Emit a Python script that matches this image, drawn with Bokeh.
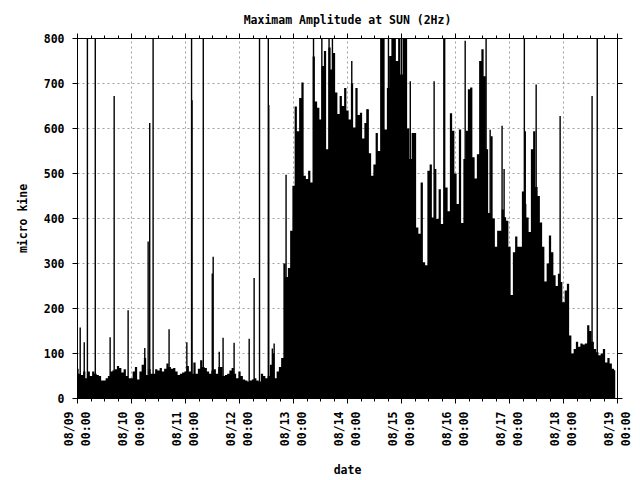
from math import pi

from bokeh.embed import file_html
from bokeh.models import CustomJSTickFormatter, FixedTicker, LinearAxis, Range1d
from bokeh.plotting import figure
from bokeh.resources import INLINE

# one label per day, hours counted from 08/09 00:00
days = ["08/09", "08/10", "08/11", "08/12", "08/13", "08/14",
        "08/15", "08/16", "08/17", "08/18", "08/19"]

# hourly maximum amplitude (micro kine), hour 0 .. 239
amp = [
    66, 55, 52, 60, 45, 60, 50, 60, 55, 52, 50, 40, 40, 45, 50, 60, 62, 65, 72, 68,
    58, 65, 50, 45, 45, 60, 70, 42, 60, 75, 90, 52, 65, 55, 55, 65, 62, 68, 60, 66,
    78, 70, 66, 68, 60, 52, 55, 58, 60, 72, 60, 55, 80, 55, 66, 85, 70, 68, 60, 55,
    62, 65, 55, 70, 70, 50, 52, 55, 62, 68, 55, 45, 60, 50, 42, 40, 38, 40, 42, 45,
    40, 38, 55, 50, 45, 50, 75, 100, 45, 60, 70, 90, 300, 270, 290, 373, 473, 649, 594, 668,
    702, 495, 488, 506, 480, 760, 660, 646, 620, 739, 772, 554, 780, 731, 768, 680, 632, 672, 650, 690,
    640, 620, 700, 602, 690, 630, 635, 578, 612, 643, 545, 495, 520, 590, 550, 800, 800, 598, 690, 761,
    800, 800, 750, 800, 720, 800, 800, 600, 532, 590, 590, 380, 366, 480, 303, 296, 506, 520, 402, 510,
    399, 465, 388, 800, 469, 416, 634, 595, 500, 432, 598, 390, 532, 595, 687, 691, 536, 489, 543, 750,
    776, 716, 554, 412, 583, 400, 337, 373, 373, 420, 403, 395, 337, 230, 325, 360, 337, 337, 460, 432,
    402, 370, 554, 594, 470, 450, 391, 337, 260, 300, 362, 325, 274, 250, 277, 259, 214, 240, 255, 140,
    100, 110, 126, 115, 122, 120, 122, 163, 150, 126, 110, 103, 96, 100, 110, 80, 90, 78, 66, 63,
]

# short single readings that stand out of the hourly level
spike_hour = [1.2, 3.0, 4.4, 7.9, 14.5, 16.3, 22.5, 29.9, 31.4, 32.1, 33.6, 40.7,
              48.6, 50.7, 50.9, 55.9, 59.9, 60.3, 63.0, 64.7, 69.6, 76.3, 78.5,
              80.9, 84.8, 85.0, 86.6, 87.4, 92.7, 104.9, 108.6, 111.8, 113.3,
              121.9, 128.7, 138.2, 144.0, 147.9, 158.5, 172.3, 181.6, 183.4,
              188.7, 189.6, 198.6, 199.0, 203.85, 214.5, 228.7, 231.0]
spike_amp = [158, 125, 1000, 1000, 136, 672, 196, 112, 349, 612, 1000, 154,
             125, 1000, 663, 1000, 278, 315, 104, 135, 124, 133, 268,
             1000, 1000, 652, 111, 122, 497, 1000, 1000, 1000, 1000,
             750, 643, 1000, 1000, 705, 705, 795, 1000, 597,
             606, 510, 1000, 594, 698, 628, 672, 1000]

hours = list(range(len(amp)))
day_ticks = [24 * i for i in range(len(days))]
minor = list(range(0, 241, 6))
amp_ticks = list(range(0, 801, 100))

FONT = "DejaVu Sans Mono"
SIZE = "11.5px"

p = figure(width=638, height=480, output_backend="svg", toolbar_location=None,
           x_range=Range1d(0, 240), y_range=Range1d(0, 800),
           min_border_left=77, min_border_right=21, min_border_top=38,
           min_border_bottom=81)
p.title.text = "Maximam Amplitude at SUN (2Hz)"
p.title.align = "center"
p.title.text_font = FONT
p.title.text_font_size = SIZE
p.title.text_font_style = "bold"
p.title.text_color = "black"
p.title.standoff = 13
p.outline_line_color = "black"
p.background_fill_color = "white"

# impulses: one solid block per hour, plus the single tall readings
p.varea_step(x=hours, y1=[0] * len(amp), y2=amp, step_mode="center", fill_color="black")
p.segment(x0=spike_hour, y0=0, x1=spike_hour, y1=spike_amp,
          line_color="black", line_width=1.4)

xt = FixedTicker(ticks=day_ticks, minor_ticks=minor)
yt = FixedTicker(ticks=amp_ticks, minor_ticks=[])

bottom = p.below[0]
left = p.left[0]
bottom.ticker = xt
left.ticker = yt
bottom.major_label_overrides = {t: d + "\n00:00" for t, d in zip(day_ticks, days)}
bottom.major_label_orientation = pi / 2
bottom.axis_label = "date"
left.axis_label = "micro kine"

p.add_layout(LinearAxis(ticker=xt, formatter=CustomJSTickFormatter(code="return ''")), "above")
p.add_layout(LinearAxis(ticker=yt, formatter=CustomJSTickFormatter(code="return ''")), "right")

for ax in p.axis:
    ax.axis_line_color = "black"
    ax.major_tick_line_color = "black"
    ax.minor_tick_line_color = "black"
    ax.major_tick_in = 0
    ax.major_tick_out = 5
    ax.minor_tick_in = 0
    ax.minor_tick_out = 3
    ax.major_label_text_font = FONT
    ax.major_label_text_font_size = SIZE
    ax.major_label_text_font_style = "bold"
    ax.major_label_text_color = "black"
    ax.axis_label_text_font = FONT
    ax.axis_label_text_font_size = SIZE
    ax.axis_label_text_font_style = "bold"
    ax.axis_label_text_color = "black"

left.major_label_standoff = 8
left.axis_label_standoff = 11
bottom.major_label_standoff = 8
bottom.axis_label_standoff = 14

for g, t in ((p.xgrid, xt), (p.ygrid, yt)):
    g.ticker = t
    g.grid_line_color = "#a0a0a0"
    g.grid_line_dash = "2 3"
    g.grid_line_width = 1

open("out.html", "w").write(file_html(p, INLINE))
